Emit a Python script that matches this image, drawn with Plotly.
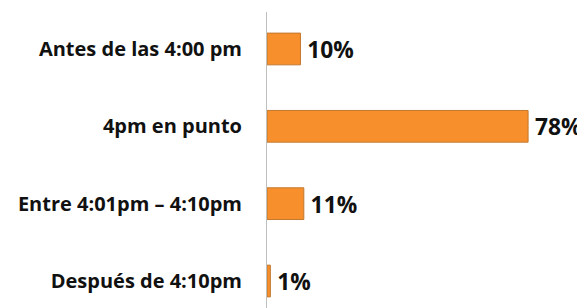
import plotly.graph_objects as go

categories = ["Antes de las 4:00 pm", "4pm en punto", "Entre 4:01pm – 4:10pm", "Después de 4:10pm"]
values = [10, 78, 11, 1]
labels = ["10%", "78%", "11%", "1%"]

fig = go.Figure(go.Bar(
    x=values,
    y=categories,
    orientation="h",
    width=0.41,
    marker=dict(color="#F7902C", line=dict(color="#C2782F", width=1)),
    text=labels,
    texttemplate="\u2009%{text}",
    textposition="outside",
    textfont=dict(family="Open Sans", size=23, color="#111111", weight="bold"),
    cliponaxis=False,
))

# page body has an 8px margin, so the figure is sized to fill the rest of the window
fig.update_layout(
    width=577, height=300,
    margin=dict(l=259, r=0, t=4, b=0, autoexpand=False),
    paper_bgcolor="white", plot_bgcolor="white",
    showlegend=False,
    xaxis=dict(range=[0, 95], visible=False, fixedrange=True, automargin=False),
    yaxis=dict(
        type="category",
        range=[3.349, -0.478],
        automargin=False,
        showline=True, linecolor="#BFBFBF", linewidth=1,
        showgrid=False, ticks="",
        ticklabelstandoff=20,
        tickfont=dict(family="Open Sans", size=20, color="#111111", weight="bold"),
    ),
)

fig.write_html("out.html")
